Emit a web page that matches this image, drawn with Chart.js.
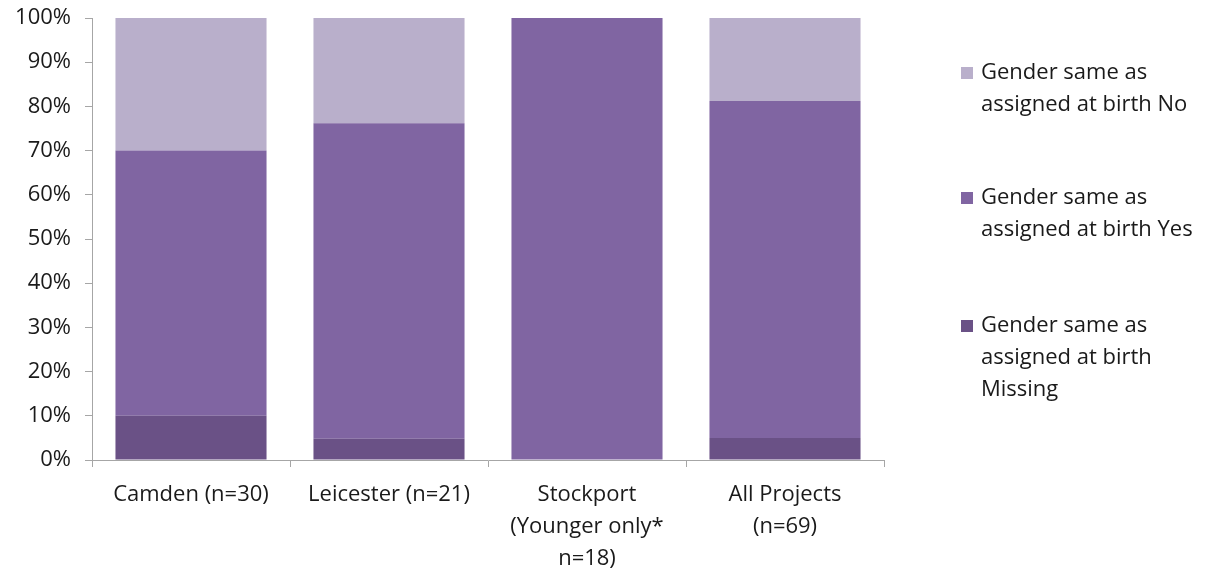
<!DOCTYPE html>
<html>
<head>
<meta charset="utf-8">
<script src="https://cdn.jsdelivr.net/npm/chart.js@4/dist/chart.umd.min.js"></script>
<style>
  html, body { margin: 0; padding: 0; background: #fff; }
  #wrap { width: 1213px; height: 573px; position: relative; }
</style>
</head>
<body>
<div id="wrap"><canvas id="chart" width="1213" height="573"></canvas></div>
<script>
// chart data
const categories = [
  ['Camden (n=30)'],
  ['Leicester (n=21)'],
  ['Stockport', '(Younger only*', 'n=18)'],
  ['All Projects', '(n=69)']
];
const missingVals = [10, 4.8, 0, 5];
const yesVals = [60, 71.4, 100, 76.2];
const noVals = [30, 23.8, 0, 18.8];
const seriesNames = ['Gender same as assigned at birth Missing', 'Gender same as assigned at birth Yes', 'Gender same as assigned at birth No'];
const legendLines = [
  ['Gender same as', 'assigned at birth No'],
  ['Gender same as', 'assigned at birth Yes'],
  ['Gender same as', 'assigned at birth', 'Missing']
];
const colors = ['#6a5186', '#8065a2', '#b9afcb'];

const FONT = 'Open Sans';
const FSIZE = 22;

// legend drawn on the right, text wrapped like the original
const sideLegend = {
  id: 'sideLegend',
  afterDraw(chart) {
    const ctx = chart.ctx;
    const tops = [73, 198, 326];
    const legendColors = [colors[2], colors[1], colors[0]];
    ctx.save();
    ctx.font = FSIZE + 'px "' + FONT + '"';
    ctx.textBaseline = 'middle';
    legendLines.forEach((lines, i) => {
      ctx.fillStyle = legendColors[i];
      ctx.fillRect(961, tops[i] - 6, 12, 12);
      ctx.fillStyle = '#1a1a1a';
      lines.forEach((t, j) => ctx.fillText(t, 981, tops[i] + j * 32));
    });
    ctx.restore();
  }
};

new Chart(document.getElementById('chart'), {
  type: 'bar',
  data: {
    labels: categories,
    datasets: [
      { label: seriesNames[0], data: missingVals, backgroundColor: colors[0] },
      { label: seriesNames[1], data: yesVals, backgroundColor: colors[1] },
      { label: seriesNames[2], data: noVals, backgroundColor: colors[2] }
    ]
  },
  options: {
    responsive: false,
    animation: false,
    layout: { padding: { top: 18, right: 329, left: 0, bottom: 0 } },
    datasets: { bar: { barPercentage: 0.763, categoryPercentage: 1 } },
    scales: {
      x: {
        stacked: true,
        grid: { display: true, drawOnChartArea: false, color: '#a6a6a6', tickLength: 7 },
        border: { color: '#a6a6a6' },
        ticks: { color: '#1a1a1a', font: { family: FONT, size: FSIZE, lineHeight: 32 / FSIZE }, padding: 12, maxRotation: 0 },
        afterFit: s => { s.height = 113; }
      },
      y: {
        stacked: true,
        min: 0, max: 100,
        grid: { display: true, drawOnChartArea: false, color: '#a6a6a6', tickLength: 7 },
        border: { color: '#a6a6a6' },
        ticks: { stepSize: 10, color: '#1a1a1a', font: { family: FONT, size: FSIZE }, padding: 14, callback: v => v + '%' },
        afterFit: s => { s.width = 92; s.paddingTop = 0; s.paddingBottom = 0; }
      }
    },
    plugins: {
      legend: { display: false },
      tooltip: { enabled: false }
    }
  },
  plugins: [sideLegend]
});
</script>
</body>
</html>
